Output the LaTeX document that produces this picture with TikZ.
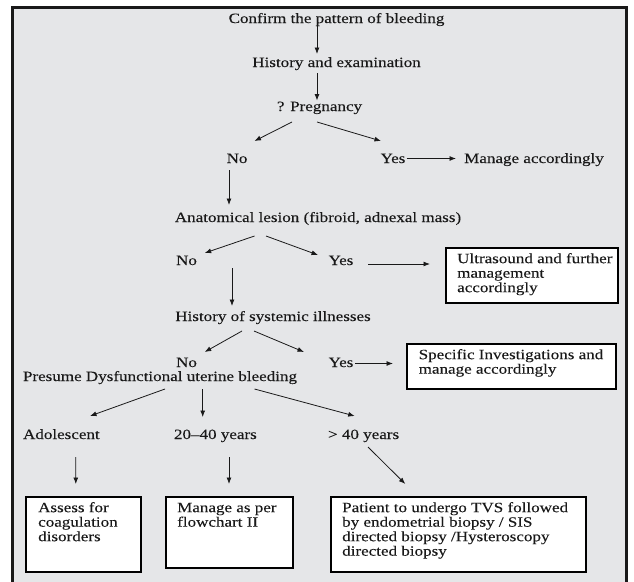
\documentclass[tikz,border=0pt]{standalone}
\usepackage{fontspec}
\setmainfont{Liberation Serif}[FakeStretch=1.2,FakeBold=0.12]
\usetikzlibrary{arrows.meta}
\definecolor{framefill}{RGB}{229,230,232}
\definecolor{ink}{RGB}{25,25,25}
\newcommand\bxtxt[4]{\parbox[t][#2][t]{#1}{\raggedright\leftskip=#3\strut #4}}
\begin{document}
\begin{tikzpicture}[x=1pt,y=-1pt,
  font=\fontsize{14.2}{14.5}\selectfont,
  lbl/.style={inner sep=0pt, anchor=base, text=ink},
  box/.style={draw=black, line width=2.4pt, fill=white, anchor=north west, inner xsep=2pt, inner ysep=4.8pt, text=ink},
  arr/.style={draw=ink, line width=0.8pt, -{Latex[length=6.5pt,width=5pt]}}]
\useasboundingbox (0,0) rectangle (634,581);
\clip (0,0) rectangle (634,581);
\draw[line width=2.8pt, draw=ink, fill=framefill] (12.8,7.4) rectangle (626.2,600);

% text nodes
\node[lbl] (confirm) at (336.5,23) {Confirm the pattern of bleeding};
\node[lbl] (hist) at (336.5,67) {History and examination};
\node[lbl] (preg) at (319.5,111) {? Pregnancy};
\node[lbl] (no1) at (237,163) {No};
\node[lbl] (yes1) at (393,163) {Yes};
\node[lbl] (manage) at (534,163) {Manage accordingly};
\node[lbl] (anat) at (318,222) {Anatomical lesion (fibroid, adnexal mass)};
\node[lbl] (no2) at (186.5,265) {No};
\node[lbl] (yes2) at (341,265) {Yes};
\node[lbl] (histsys) at (273,321) {History of systemic illnesses};
\node[lbl] (no3) at (186.5,367) {No};
\node[lbl] (yes3) at (341,367) {Yes};
\node[lbl] (presume) at (160,381) {Presume Dysfunctional uterine bleeding};
\node[lbl] (adol) at (61.4,439) {Adolescent};
\node[lbl] (mid) at (215.4,439) {20--40 years};
\node[lbl] (old) at (363.6,439) {> 40 years};

% boxes
\node[box] (boxU) at (445,247) {\bxtxt{168pt}{45.4pt}{9pt}{Ultrasound and further\\ management\\ accordingly}};
\node[box] (boxS) at (406,343) {\bxtxt{205pt}{35.4pt}{9.5pt}{Specific Investigations and\\ manage accordingly}};
\node[box] (boxA) at (25,496) {\bxtxt{110.5pt}{65.4pt}{10pt}{Assess for\\ coagulation\\ disorders}};
\node[box] (boxB) at (165,496) {\bxtxt{122.6pt}{61.4pt}{9pt}{Manage as per\\ flowchart II}};
\node[box] (boxC) at (330,496) {\bxtxt{251pt}{65.4pt}{9pt}{Patient to undergo TVS followed\\ by endometrial biopsy / SIS\\ directed biopsy /Hysteroscopy\\ directed biopsy}};

% connectors
\draw[arr] ([shift={(-19.5,3)}]confirm.base) -- ([shift={(-19.5,-13)}]hist.base);
\draw[arr] ([shift={(-19.5,6)}]hist.base) -- ([shift={(-2.5,-10.5)}]preg.base);
\draw[arr] ([shift={(-27.5,11)}]preg.base) -- ([shift={(17.5,-22)}]no1.base);
\draw[arr] ([shift={(-2.5,11)}]preg.base) -- ([shift={(-12,-22)}]yes1.base);
\draw[arr] ([shift={(13.5,-4.5)}]yes1.base) -- ([shift={(-78,-4.5)}]manage.base);
\draw[arr] ([shift={(-8,7)}]no1.base) -- ([shift={(-89,-17)}]anat.base);
\draw[arr] ([shift={(-63.5,14)}]anat.base) -- ([shift={(18.2,-12)}]no2.base);
\draw[arr] ([shift={(-52,14)}]anat.base) -- ([shift={(-23,-10)}]yes2.base);
\draw[arr] ([shift={(27,-1)}]yes2.base) -- ([shift={(-15,17)}]boxU.north west);
\draw[arr] ([shift={(45.5,3)}]no2.base) -- ([shift={(-41,-15)}]histsys.base);
\draw[arr] ([shift={(-31,10)}]histsys.base) -- ([shift={(18.2,-15)}]no3.base);
\draw[arr] ([shift={(-19,10)}]histsys.base) -- ([shift={(-37,-15)}]yes3.base);
\draw[arr] ([shift={(14,-3.5)}]yes3.base) -- ([shift={(-13,20.5)}]boxS.north west);
\draw[arr] ([shift={(5,8)}]presume.base) -- ([shift={(28.6,-23)}]adol.base);
\draw[arr] ([shift={(42.7,8)}]presume.base) -- ([shift={(-12.7,-22)}]mid.base);
\draw[arr] ([shift={(94.5,8)}]presume.base) -- ([shift={(-8.9,-23)}]old.base);
\draw[arr] ([shift={(14.4,18)}]adol.base) -- ([shift={(50.8,-12)}]boxA.north west);
\draw[arr] ([shift={(13.6,18)}]mid.base) -- ([shift={(64,-12)}]boxB.north west);
\draw[arr] ([shift={(4.4,8)}]old.base) -- ([shift={(75.3,-12)}]boxC.north west);
\end{tikzpicture}
\end{document}
